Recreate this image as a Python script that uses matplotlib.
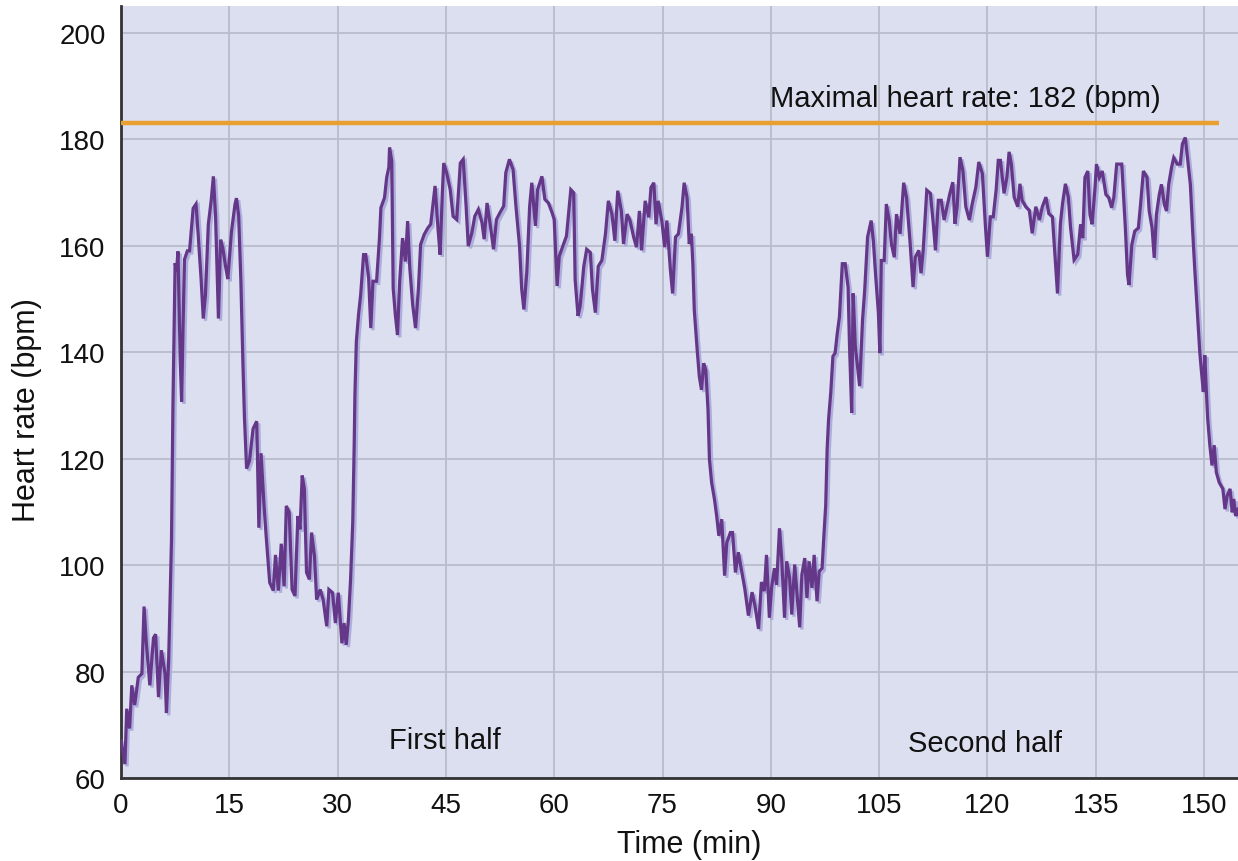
import matplotlib
matplotlib.use("Agg")
import matplotlib.pyplot as plt
import matplotlib.patheffects as pe

# ---- data ----
time_min = [
    0.0, 0.55, 0.8, 1.2, 1.5, 1.9, 2.4, 2.9, 3.2, 3.5, 4.0, 4.5, 4.8, 5.2, 5.6, 6.1, 6.3, 6.6,
    7.0, 7.2, 7.5, 7.7, 7.9, 8.2, 8.4, 8.6, 8.8, 9.2, 9.5, 10.0, 10.4, 10.7, 11.1, 11.4, 11.7,
    12.1, 12.5, 12.8, 13.1, 13.5, 13.8, 14.1, 14.5, 14.8, 15.3, 15.8, 16.0, 16.3, 16.6, 16.9,
    17.1, 17.4, 17.8, 18.3, 18.8, 19.1, 19.4, 19.8, 20.1, 20.6, 21.1, 21.4, 21.8, 22.2,
    22.6, 22.9, 23.3, 23.7, 24.1, 24.5, 24.8, 25.1, 25.4, 25.7, 26.1, 26.4, 26.8, 27.1, 27.6,
    28.0, 28.5, 28.8, 29.3, 29.7, 30.1, 30.6, 30.9, 31.2, 31.5, 31.8, 32.1, 32.3, 32.4, 32.6,
    32.9, 33.2, 33.6, 33.9, 34.3, 34.6, 34.9, 35.4, 35.8, 36.0, 36.5, 36.8, 37.1, 37.2, 37.5,
    37.7, 38.0, 38.3, 38.6, 39.0, 39.4, 39.7, 40.0, 40.4, 40.8, 41.2, 41.5, 42.0, 42.5, 42.9,
    43.5, 43.9, 44.2, 44.5,
    44.7, 45.1, 45.6, 46.0, 46.5, 47.0, 47.4, 47.8, 48.1, 48.6, 49.0, 49.5, 50.0, 50.3, 50.7,
    51.1, 51.6, 52.0, 52.5, 53.0, 53.3, 53.8, 54.3, 54.7, 55.2, 55.5, 55.8, 56.2, 56.6, 56.9,
    57.4, 57.7, 58.3, 58.7, 59.2, 59.7, 60.0, 60.4, 60.7, 61.2, 61.7, 62.3, 62.7, 62.9, 63.3,
    63.6, 64.1, 64.5, 65.0, 65.3, 65.7, 66.1,
    66.6, 67.1, 67.5, 68.0, 68.4, 68.8, 69.3, 69.6, 70.1, 70.5, 71.0, 71.4, 71.8, 72.1, 72.6,
    73.1, 73.4, 73.8, 74.1, 74.4, 74.9, 75.3, 75.6, 76.1, 76.4, 76.8, 77.2, 77.7, 78.0, 78.4,
    78.7, 79.0, 79.2, 79.4, 79.8, 80.1, 80.4, 80.7, 81.0, 81.3, 81.5, 81.8, 82.2, 82.5, 82.8,
    83.2, 83.6, 83.9, 84.4, 84.7, 85.1, 85.5, 86.0, 86.4, 86.9, 87.4, 87.8, 88.3, 88.7,
    89.1, 89.4, 89.8, 90.1, 90.5, 90.8, 91.2, 91.5, 91.9, 92.2, 92.6, 92.9, 93.3, 93.6, 94.0,
    94.3, 94.7, 95.0, 95.3, 95.7, 96.0, 96.4, 96.7, 97.1, 97.3, 97.6, 97.8, 98.0, 98.3, 98.6,
    98.9, 99.2, 99.5, 99.9, 100.3, 100.7, 100.9, 101.2, 101.4, 101.7, 102.0, 102.3, 102.7,
    103.0, 103.4, 103.9, 104.2, 104.5, 104.9, 105.1, 105.3, 105.7, 106.0, 106.4, 106.7, 107.1,
    107.4, 107.9, 108.4, 108.8, 109.3, 109.7, 110.0, 110.5,
    110.8, 111.1, 111.6, 112.1, 112.5, 112.8, 113.2, 113.6, 114.0, 114.4, 114.8, 115.2, 115.5,
    115.8, 116.2, 116.6, 117.0, 117.5, 117.9, 118.4, 118.8, 119.3, 119.7, 120.0, 120.4, 120.8,
    121.2, 121.5, 121.8, 122.3, 122.7, 123.0, 123.3, 123.7, 124.2, 124.5, 124.8, 125.3, 125.8,
    126.2, 126.7, 127.2, 127.6, 128.1, 128.5, 129.0, 129.3, 129.7, 130.1, 130.4, 130.8, 131.2,
    131.5, 132.0,
    132.5, 132.9, 133.2, 133.5, 133.9, 134.2, 134.5, 134.9, 135.1, 135.5, 135.9, 136.4, 136.8,
    137.2, 137.5, 137.9, 138.6, 139.1, 139.4, 139.6, 140.0, 140.4, 140.9, 141.2, 141.6, 142.1,
    142.4, 142.8, 143.1, 143.4, 143.8, 144.1, 144.5, 144.8, 145.1, 145.5, 145.8, 146.3, 146.7,
    147.0, 147.4, 147.7, 148.1, 148.4, 148.7, 149.1, 149.4, 149.6, 149.9, 150.1, 150.3, 150.5,
    150.8, 151.1, 151.4, 151.7, 152.1, 152.6, 152.9, 153.2, 153.6, 153.9, 154.1, 154.4, 154.7,
]

heart_rate = [
    67, 62.6, 73, 69.3, 77.4, 73.7, 78.9, 79.6, 92.2, 85.6, 77.4, 86.3, 87, 75.2, 84, 79.6, 72.2, 81.9,
    104.8, 130, 156.7, 155.2, 158.9, 138.9, 130.7, 144.8, 157.4, 159, 159, 167, 167.8, 161.9, 153.7, 146.3, 150.7,
    164, 168.5, 173, 165.6, 146.3, 161.1, 159.6, 156, 153.7, 162.6, 167.8, 168.9, 165.6, 153.7, 137.4,
    127.8, 118.1, 119.6, 125.6, 127, 107, 121, 111.5, 105.6, 96.7, 95.2, 101.9, 95.2, 104,
    96, 111.1, 109.9, 95.4, 94.2, 109.2, 106.7, 116.8, 114.3, 98.6, 97.3, 106.1, 101.7, 93.5, 95.4,
    93.5, 88.5, 95.4, 94.8, 89.1, 94.8, 85.3, 89.1, 85, 89.7, 97.3, 108, 122.5, 131.9, 142,
    147, 150.8, 158.3, 158.3, 153.9, 144.5, 153.3, 153.3, 161.4, 167.1, 169, 172.8, 174.7, 178.4, 175.9,
    152, 147, 143.2, 153.3, 161.4, 157, 164.6, 155.8, 148.9, 144.5, 152, 160.2, 162.1, 163.3, 164,
    171.2, 163.3, 158.3, 169.6,
    175.5, 173.7, 170.5, 165.5, 164.9, 175.5, 176.2, 167.4, 159.9, 162.4, 165.5, 166.8, 164.3, 161.2, 168,
    164.3, 159.3, 164.9, 166.2, 167.4, 173.7, 176.2, 174.3, 167.4, 159.9, 151.8, 148, 154.9, 167.4, 171.8,
    163.7, 170.5, 173, 168.7, 168, 166.2, 164.9, 152.4, 158, 159.9, 161.8, 170.5, 169.9, 153.6, 146.8,
    148.7, 156.1, 159.3, 158.7, 151.8, 147.4, 156.1,
    157.2, 162.2, 168.4, 165.9, 160.9, 170.3, 166.5, 160.3, 165.9, 164.7, 161.6, 159.7, 166.5, 159.1, 168.4,
    165.3, 170.9, 171.8, 164, 168.4, 164.7, 159.7, 164.7, 155.3, 151, 161.6, 162.2, 167.2, 171.8, 169,
    160.3, 162.2, 156.6, 147.9, 140.4, 135.4, 132.9, 137.9, 136.6, 129.2, 119.8, 115.5, 112.3, 109.2, 105.5,
    108.6, 98, 104.2, 106.1, 106.1, 98.6, 102.4, 98.6, 95.5, 90.5, 94.9, 92.4, 88, 96.8,
    95.1, 101.9, 90.1, 95.7, 99.4, 96.3, 106.9, 101.3, 90.1, 100.7, 97.6, 90.7, 100.1, 95.1, 88.3,
    98.2, 101.3, 93.8, 100.7, 95.7, 101.9, 93.2, 98.8, 99.4, 104.4, 111.2, 121.8, 127.4, 132.4, 139.2,
    139.8, 143.5, 146.6, 156.6, 156.6, 152.2, 141.1, 128.6, 151, 141.1, 137.3, 133.6, 146,
    151.6, 161.6, 164.7, 160.9, 154.7, 147.3, 139.8, 157.2, 157.2, 167.8, 164.7, 160.3, 157.8,
    165.9, 162.2, 171.8, 169, 160.3, 152.2, 157.8, 159.1,
    154.8, 159.1, 170.4, 169.8, 164.1, 159.1, 168.5, 168.5, 164.8, 167.3, 169.8, 171.9, 164.1,
    167.3, 176.6, 174.1, 167.3, 164.8, 167.9, 171, 175.7, 173.5, 164.1, 157.9, 165.4, 165.4,
    170.4, 176, 176, 169.8, 172.9, 177.6, 175.4, 169.1, 167.3, 171.6, 168.5, 167.3, 166.6,
    162.3, 167.3, 164.8, 167.3, 169.1, 166, 165.4, 159.1, 151, 164.1, 167.9, 171.6, 169.1,
    163.5, 157.3,
    158.3, 164, 161.4, 172.8, 174, 165.8, 164, 170.9, 175.3, 172.8, 174, 169.6, 169,
    167.1, 169, 175.3, 175.3, 163.3, 154.5, 152.6, 160.2, 162.7, 163.3, 167.7, 174, 172.8,
    166.5, 163.3, 157.7, 165.8, 169.6, 171.5, 167.7, 166.5, 171.5, 174.7, 176.5, 175.3, 175.3,
    179.1, 180.3, 176.5, 171.5, 163.3, 155.8, 147, 140.1, 136.9, 132.5, 139.4, 133.1, 127.5,
    122.5, 118.7, 122.5, 117.4, 115.5, 114.3, 110.5, 113, 114.3, 109.9, 112.4, 109.2, 110.5,
]

max_hr_line = 183          # drawn position of the maximal-heart-rate line
max_hr_line_end = 152      # minutes where the line ends
max_hr_label = "Maximal heart rate: 182 (bpm)"
x_ticks = [0, 15, 30, 45, 60, 75, 90, 105, 120, 135, 150]
y_ticks = [60, 80, 100, 120, 140, 160, 180, 200]

# ---- style ----
plt.rcParams['font.family'] = ['Liberation Sans', 'DejaVu Sans']

fig = plt.figure(figsize=(12.38, 8.62), dpi=100)
ax = fig.add_axes([0.0977, 0.0963, 0.9023, 0.8956])
ax.set_facecolor('#dcdfef')

ax.set_xlim(0, 154.7)
ax.set_ylim(60, 205)
ax.set_xticks(x_ticks)
ax.set_yticks(y_ticks)
ax.grid(True, color='#b9bccb', linewidth=1.3)
ax.set_axisbelow(True)
ax.tick_params(axis='both', length=0, labelsize=20, colors='#111111')
ax.tick_params(axis='x', pad=10)
ax.tick_params(axis='y', pad=11)

for s in ['top', 'right']:
    ax.spines[s].set_visible(False)
for s in ['left', 'bottom']:
    ax.spines[s].set_color('#333333')
    ax.spines[s].set_linewidth(2)

ax.plot([0, max_hr_line_end], [max_hr_line, max_hr_line], color='#e9a030',
        linewidth=3.2, solid_capstyle='butt', zorder=3)

ax.plot(time_min, heart_rate, color='#643789', linewidth=2.3, zorder=4,
        solid_joinstyle='miter',
        path_effects=[pe.SimpleLineShadow(offset=(1.6, -1.6), shadow_color='#a9a9dc', alpha=0.9),
                      pe.Normal()])

ax.text(116.9, 187.8, max_hr_label, fontsize=21, ha='center', va='center', color='#111111')
ax.text(44.9, 67.2, "First half", fontsize=21, ha='center', va='center', color='#111111')
ax.text(119.7, 66.5, "Second half", fontsize=21, ha='center', va='center', color='#111111')

ax.set_xlabel("Time (min)", fontsize=22, color='#111111')
ax.set_ylabel("Heart rate (bpm)", fontsize=22, color='#111111')
ax.xaxis.label.set_va('center')
ax.yaxis.label.set_va('center')
ax.xaxis.set_label_coords(0.509, -0.0855)
ax.yaxis.set_label_coords(-0.084, 0.478)

fig.savefig("out.png", dpi=100)
